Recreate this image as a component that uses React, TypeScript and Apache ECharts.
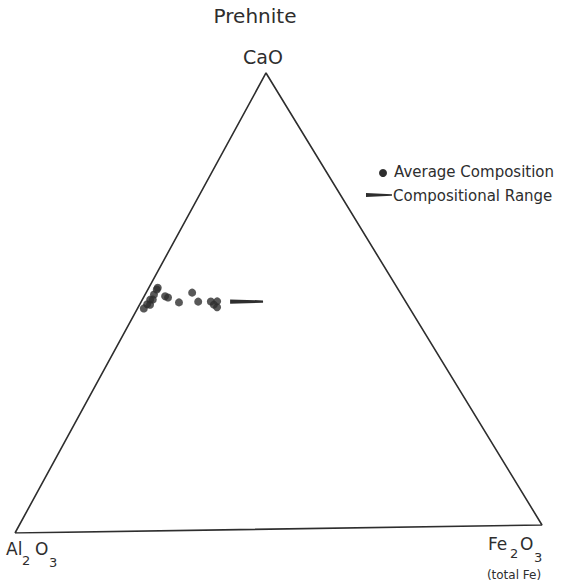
import React, { useEffect, useRef } from "react";
import * as echarts from "echarts";

// Average compositions (wt% oxides, normalised) — CaO, Al2O3, Fe2O3(total Fe)
const CAO = [53.3, 52.9, 51.8, 50.7, 49.7, 48.8, 49.6, 50.7, 51.4, 51.1, 50.0, 52.1, 50.1, 50.1, 50.1, 48.8, 49.4];
const AL2O3 = [45.0, 45.4, 46.5, 47.8, 48.9, 50.0, 48.4, 47.3, 44.6, 44.2, 42.7, 39.1, 39.0, 36.6, 35.4, 36.1, 36.4];
const FE2O3 = [1.7, 1.7, 1.7, 1.5, 1.4, 1.2, 2.0, 2.0, 4.0, 4.7, 7.3, 8.8, 10.9, 13.3, 14.5, 15.1, 14.2];

// Compositional range (start, end)
const RANGE_CAO = [50.0, 49.9];
const RANGE_AL2O3 = [33.0, 26.8];
const RANGE_FE2O3 = [17.0, 23.3];

// Texts
const APEX_TOP = "CaO";
const TITLE = "Prehnite";
const LEGEND_AVG = "Average Composition";
const LEGEND_RANGE = "Compositional Range";

// triangle corners in the cartesian data space (layout)
const V_AL: [number, number] = [0, 0];
const V_FE: [number, number] = [100, 1.52];
const V_CA: [number, number] = [47.63, 87.29];

function toXY(c: number, a: number, f: number): [number, number] {
  const s = c + a + f;
  return [
    (a * V_AL[0] + f * V_FE[0] + c * V_CA[0]) / s,
    (a * V_AL[1] + f * V_FE[1] + c * V_CA[1]) / s,
  ];
}

const INK = "#2e2e2e";
const FONT = "DejaVu Sans";

export default function App() {
  const ref = useRef<HTMLDivElement>(null);
  useEffect(() => {
    document.body.style.margin = "0";
    if (!ref.current) return;
    const chart = echarts.init(ref.current, undefined, { renderer: "svg" });

    const tri = [toXY(0, 100, 0), toXY(0, 0, 100), toXY(100, 0, 0), toXY(0, 100, 0)];
    const pts = CAO.map((c, i) => toXY(c, AL2O3[i], FE2O3[i]));
    const r0 = toXY(RANGE_CAO[0], RANGE_AL2O3[0], RANGE_FE2O3[0]);
    const r1 = toXY(RANGE_CAO[1], RANGE_AL2O3[1], RANGE_FE2O3[1]);

    const txt = (x: number, y: number, text: string, size: number, align = "left") => ({
      type: "text",
      x,
      y,
      style: {
        text,
        fontSize: size,
        fontFamily: FONT,
        fill: INK,
        align,
        verticalAlign: "middle",
      },
    });

    chart.setOption({
      animation: false,
      backgroundColor: "#fff",
      grid: { left: 15, top: 6, width: 527, height: 527 },
      xAxis: { type: "value", min: 0, max: 100, show: false },
      yAxis: { type: "value", min: 0, max: 100, show: false },
      series: [
        {
          type: "line",
          data: tri,
          symbol: "none",
          lineStyle: { color: INK, width: 1.6 },
          silent: true,
        },
        {
          type: "custom",
          coordinateSystem: "cartesian2d",
          data: [[r0[0], r0[1], r1[0], r1[1]]],
          encode: { x: [0, 2], y: [1, 3] },
          renderItem: (_p: any, api: any) => {
            const p1 = api.coord([api.value(0), api.value(1)]);
            const p2 = api.coord([api.value(2), api.value(3)]);
            return {
              type: "polygon",
              shape: {
                points: [
                  [p1[0], p1[1] - 2.2],
                  [p2[0], p2[1] - 1.2],
                  [p2[0], p2[1] + 1.2],
                  [p1[0], p1[1] + 2.2],
                ],
              },
              style: { fill: INK },
            };
          },
        },
        {
          type: "scatter",
          data: pts,
          symbol: "circle",
          symbolSize: 8,
          itemStyle: { color: INK },
        },
      ],
      graphic: [
        txt(255, 16, TITLE, 20, "center"),
        txt(263, 57, APEX_TOP, 19, "center"),
        // Al2O3
        txt(6, 549, "Al", 17),
        txt(22, 560, "2", 13),
        txt(35, 549, "O", 17),
        txt(49, 562, "3", 13),
        // Fe2O3 (total Fe)
        txt(488, 544, "Fe", 17),
        txt(510, 553, "2", 13),
        txt(520, 544, "O", 17),
        txt(534, 557, "3", 13),
        txt(514, 575, "(total Fe)", 12, "center"),
        // legend
        { type: "circle", shape: { cx: 383, cy: 173, r: 4 }, style: { fill: INK } },
        txt(394, 172, LEGEND_AVG, 15),
        {
          type: "polygon",
          shape: { points: [[366, 193], [392, 194.2], [392, 195.8], [366, 197]] },
          style: { fill: INK },
        },
        txt(393, 196, LEGEND_RANGE, 15),
      ],
    });
    return () => chart.dispose();
  }, []);
  return <div ref={ref} style={{ width: 562, height: 585 }} />;
}
